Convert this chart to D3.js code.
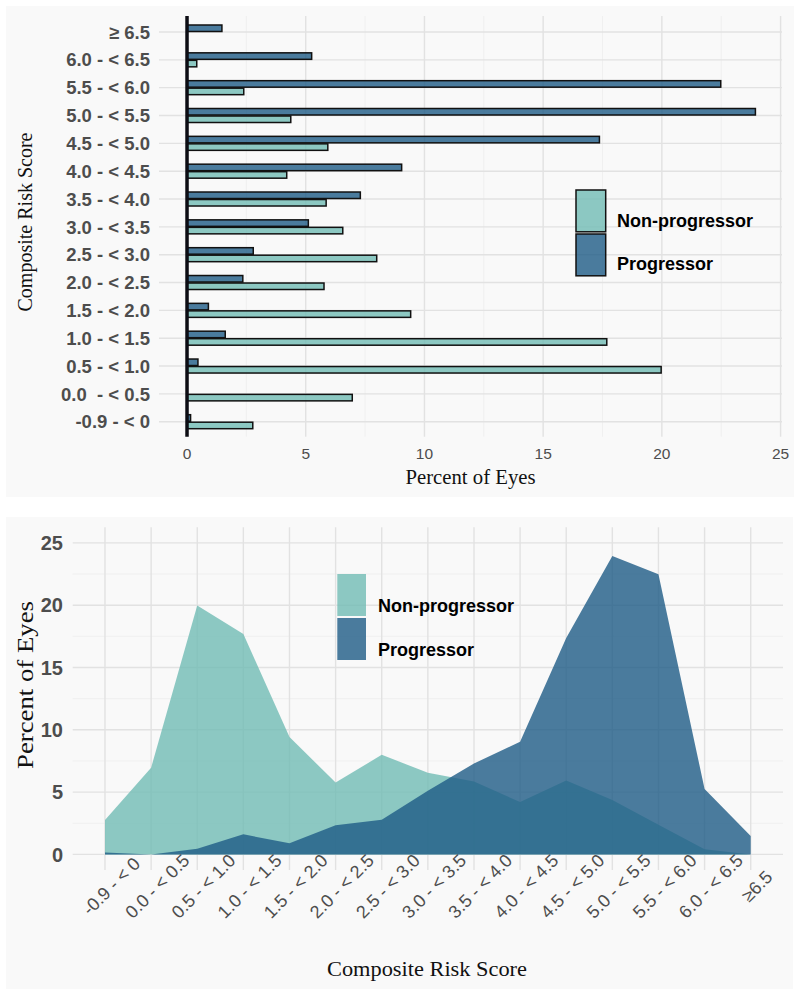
<!DOCTYPE html>
<html><head><meta charset="utf-8">
<script src="https://cdn.jsdelivr.net/npm/d3@7"></script>
<style>
body{margin:0;background:#fff;}
svg{display:block;}
text{white-space:pre;}
</style></head>
<body>
<svg id="c" width="800" height="998"></svg>
<script>
// ---- data ----
const categories = ["-0.9 - < 0","0.0 - < 0.5","0.5 - < 1.0","1.0 - < 1.5","1.5 - < 2.0","2.0 - < 2.5","2.5 - < 3.0","3.0 - < 3.5","3.5 - < 4.0","4.0 - < 4.5","4.5 - < 5.0","5.0 - < 5.5","5.5 - < 6.0","6.0 - < 6.5","≥ 6.5"];
const topLabels = ["-0.9 - < 0","0.0  - < 0.5","0.5 - < 1.0","1.0 - < 1.5","1.5 - < 2.0","2.0 - < 2.5","2.5 - < 3.0","3.0 - < 3.5","3.5 - < 4.0","4.0 - < 4.5","4.5 - < 5.0","5.0 - < 5.5","5.5 - < 6.0","6.0 - < 6.5","≥ 6.5"];
const bottomLabels = ["-0.9 - < 0","0.0 - < 0.5","0.5 - < 1.0","1.0 - < 1.5","1.5 - < 2.0","2.0 - < 2.5","2.5 - < 3.0","3.0 - < 3.5","3.5 - < 4.0","4.0 - < 4.5","4.5 - < 5.0","5.0 - < 5.5","5.5 - < 6.0","6.0 - < 6.5","≥6.5"];
const nonProgressor = [2.77, 6.96, 19.97, 17.68, 9.42, 5.77, 7.99, 6.56, 5.86, 4.2, 5.93, 4.37, 2.39, 0.41, 0];
const progressor    = [0.15, 0, 0.46, 1.61, 0.9, 2.35, 2.79, 5.11, 7.3, 9.04, 17.37, 23.94, 22.48, 5.25, 1.47];
const seriesNames = ["Non-progressor","Progressor"];
const xTicksTop = [0,5,10,15,20,25];
const yTicksBottom = [0,5,10,15,20,25];

const colNP = "#70bcb4", colP = "#1e5b86", alpha = 0.8;
const bg = "#f9f9f9", gMaj = "#e2e2e2", gMin = "#ededed";
const sans = "'Liberation Sans', Arial, sans-serif";
const serif = "'Liberation Serif', 'Times New Roman', serif";
const tickCol = "#4d4d4d";

const svg = d3.select("#c");

// ================= TOP CHART =================
const T = {l:159, r:782, t:16, b:436.7};
svg.append("rect").attr("x",6).attr("y",6).attr("width",788).attr("height",491).attr("fill",bg);
const xT = d3.scaleLinear().domain([-1.18, 25.06]).range([T.l, T.r]);
const yT = d3.scalePoint().domain(categories.slice().reverse()).range([32, 421.7]);

const gT = svg.append("g");
gT.selectAll(".vmin").data(d3.range(2.5, 25, 5)).join("line")
  .attr("x1",d=>xT(d)).attr("x2",d=>xT(d)).attr("y1",T.t).attr("y2",T.b)
  .attr("stroke",gMin).attr("stroke-width",0.8);
gT.selectAll(".vmaj").data(xTicksTop).join("line")
  .attr("x1",d=>xT(d)).attr("x2",d=>xT(d)).attr("y1",T.t).attr("y2",T.b)
  .attr("stroke",gMaj).attr("stroke-width",1.4);
gT.selectAll(".hmaj").data(categories).join("line")
  .attr("x1",T.l).attr("x2",T.r).attr("y1",d=>yT(d)).attr("y2",d=>yT(d))
  .attr("stroke",gMaj).attr("stroke-width",1.4);

const barH = 6.5;
gT.selectAll(".bp").data(categories.map((c,i)=>({c,v:progressor[i]})).filter(d=>d.v>0)).join("rect")
  .attr("x",xT(0)).attr("width",d=>xT(d.v)-xT(0))
  .attr("y",d=>yT(d.c)-barH-0.5).attr("height",barH)
  .attr("fill",colP).attr("fill-opacity",alpha).attr("stroke","#111").attr("stroke-width",1.5);
gT.selectAll(".bn").data(categories.map((c,i)=>({c,v:nonProgressor[i]})).filter(d=>d.v>0)).join("rect")
  .attr("x",xT(0)).attr("width",d=>xT(d.v)-xT(0))
  .attr("y",d=>yT(d.c)+0.5).attr("height",barH)
  .attr("fill",colNP).attr("fill-opacity",alpha).attr("stroke","#111").attr("stroke-width",1.5);

gT.append("line").attr("x1",xT(0)).attr("x2",xT(0)).attr("y1",T.t).attr("y2",T.b)
  .attr("stroke","#0d0d14").attr("stroke-width",3.5);

gT.selectAll(".yl").data(categories).join("text")
  .attr("x",150).attr("y",d=>yT(d)).attr("dy","0.36em").attr("text-anchor","end")
  .attr("font-family",sans).attr("font-weight","bold").attr("font-size",18.5).attr("fill",tickCol)
  .text((d,i)=>topLabels[i]);
gT.selectAll(".xl").data(xTicksTop).join("text")
  .attr("x",d=>xT(d)).attr("y",453).attr("dy","0.36em").attr("text-anchor","middle")
  .attr("font-family",sans).attr("font-size",15.5).attr("fill",tickCol).text(d=>d);
svg.append("text").attr("x",(T.l+T.r)/2).attr("y",477).attr("dy","0.33em").attr("text-anchor","middle")
  .attr("font-family",serif).attr("font-size",20).attr("fill","#111")
  .attr("textLength",130).attr("lengthAdjust","spacingAndGlyphs").text("Percent of Eyes");
svg.append("text").attr("transform","translate(25,222) rotate(-90)").attr("dy","0.33em").attr("text-anchor","middle")
  .attr("font-family",serif).attr("font-size",20).attr("fill","#111")
  .attr("textLength",179).attr("lengthAdjust","spacingAndGlyphs").text("Composite Risk Score");

const legT = svg.append("g");
[[colNP,190,221],[colP,234,264]].forEach((d,i)=>{
  legT.append("rect").attr("x",576).attr("y",d[1]).attr("width",29.7).attr("height",41.8)
    .attr("fill",d[0]).attr("fill-opacity",alpha).attr("stroke","#111").attr("stroke-width",1.5);
  legT.append("text").attr("x",617).attr("y",d[2]).attr("dy","0.36em")
    .attr("font-family",sans).attr("font-weight","bold").attr("font-size",18).attr("fill","#000")
    .text(seriesNames[i]);
});

// ================= BOTTOM CHART =================
const B = {l:72.7, r:783, t:527.3, b:870};
svg.append("rect").attr("x",6).attr("y",517).attr("width",787).attr("height",472).attr("fill",bg);
const xB = d3.scalePoint().domain(categories).range([105, 750.7]);
const yB = d3.scaleLinear().domain([-1.25, 26.25]).range([B.b, B.t]);
const gB = svg.append("g");
gB.selectAll(".hmin").data(d3.range(2.5, 25, 5)).join("line")
  .attr("x1",B.l).attr("x2",B.r).attr("y1",d=>yB(d)).attr("y2",d=>yB(d))
  .attr("stroke",gMin).attr("stroke-width",0.8);
gB.selectAll(".hmaj").data(yTicksBottom).join("line")
  .attr("x1",B.l).attr("x2",B.r).attr("y1",d=>yB(d)).attr("y2",d=>yB(d))
  .attr("stroke",gMaj).attr("stroke-width",1.4);
gB.selectAll(".vmaj").data(categories).join("line")
  .attr("x1",d=>xB(d)).attr("x2",d=>xB(d)).attr("y1",B.t).attr("y2",B.b)
  .attr("stroke",gMaj).attr("stroke-width",1.4);

const area = d3.area().x(d=>xB(d.c)).y0(yB(0)).y1(d=>yB(d.v));
gB.append("path").datum(categories.map((c,i)=>({c,v:nonProgressor[i]})))
  .attr("d",area).attr("fill",colNP).attr("fill-opacity",alpha);
gB.append("path").datum(categories.map((c,i)=>({c,v:progressor[i]})))
  .attr("d",area).attr("fill",colP).attr("fill-opacity",alpha);

gB.selectAll(".yl").data(yTicksBottom).join("text")
  .attr("x",63).attr("y",d=>yB(d)).attr("dy","0.36em").attr("text-anchor","end")
  .attr("font-family",sans).attr("font-weight","bold").attr("font-size",20).attr("fill",tickCol).text(d=>d);
gB.selectAll(".xl").data(categories).join("text")
  .attr("transform",d=>`translate(${xB(d)+6},886) rotate(-45)`).attr("dy","0.36em").attr("text-anchor","middle")
  .attr("font-family",sans).attr("font-size",18).attr("fill",tickCol)
  .text((d,i)=>bottomLabels[i]);

svg.append("text").attr("x",427).attr("y",969).attr("dy","0.33em").attr("text-anchor","middle")
  .attr("font-family",serif).attr("font-size",22).attr("fill","#111")
  .attr("textLength",200).attr("lengthAdjust","spacingAndGlyphs").text("Composite Risk Score");
svg.append("text").attr("transform","translate(25,685) rotate(-90)").attr("dy","0.33em").attr("text-anchor","middle")
  .attr("font-family",serif).attr("font-size",23).attr("fill","#111")
  .attr("textLength",168).attr("lengthAdjust","spacingAndGlyphs").text("Percent of Eyes");

const legB = svg.append("g");
[[colNP,574,606],[colP,618,650]].forEach((d,i)=>{
  legB.append("rect").attr("x",337.3).attr("y",d[1]).attr("width",28.7).attr("height",42)
    .attr("fill",d[0]).attr("fill-opacity",alpha);
  legB.append("text").attr("x",378).attr("y",d[2]).attr("dy","0.36em")
    .attr("font-family",sans).attr("font-weight","bold").attr("font-size",18).attr("fill","#000")
    .text(seriesNames[i]);
});
</script>
</body></html>
